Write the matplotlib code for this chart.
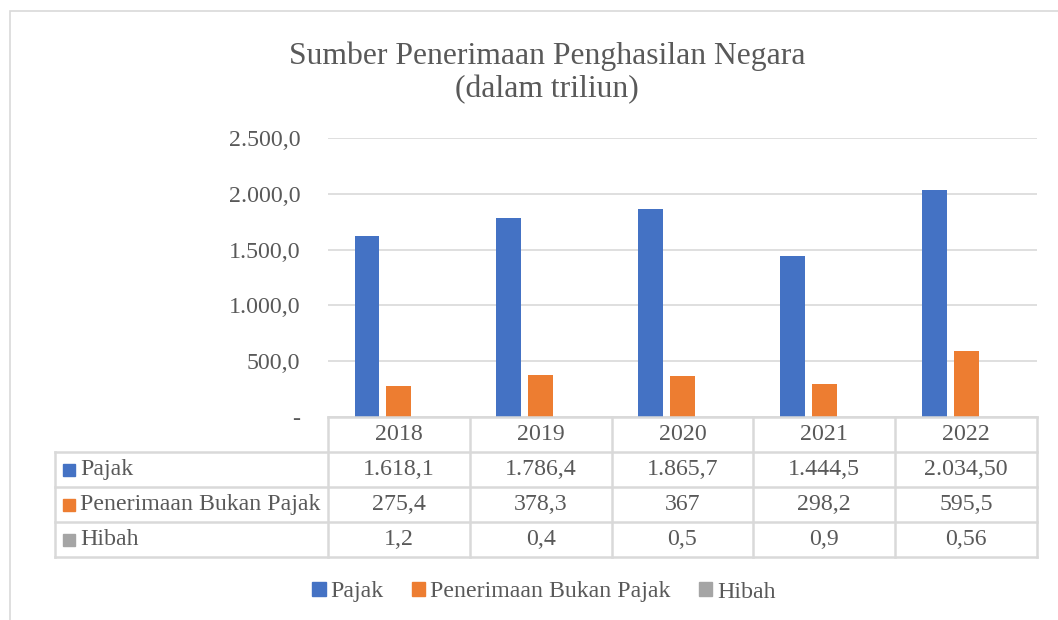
import matplotlib.pyplot as plt
import numpy as np
from matplotlib.patches import Patch, Rectangle
from matplotlib.lines import Line2D

years = ["2018", "2019", "2020", "2021", "2022"]
series = ["Pajak", "Penerimaan Bukan Pajak", "Hibah"]
pajak = [1618.1, 1786.4, 1865.7, 1444.5, 2034.50]
bukan_pajak = [275.4, 378.3, 367, 298.2, 595.5]
hibah = [1.2, 0.4, 0.5, 0.9, 0.56]
# the table shows the values as typed in the sheet
pajak_txt = ["1.618,1", "1.786,4", "1.865,7", "1.444,5", "2.034,50"]
bukan_pajak_txt = ["275,4", "378,3", "367", "298,2", "595,5"]
hibah_txt = ["1,2", "0,4", "0,5", "0,9", "0,56"]
yticks = [0, 500, 1000, 1500, 2000, 2500]
ytick_labels = ["-", "500,0", "1.000,0", "1.500,0", "2.000,0", "2.500,0"]

colors = ["#4472C4", "#ED7D31", "#A5A5A5"]
grid_c = "#D9D9D9"
text_c = "#595959"
fs = 17.2

plt.rcParams["font.family"] = ["Liberation Serif", "DejaVu Serif"]

W, H = 1058, 620
fig = plt.figure(figsize=(W / 100, H / 100), dpi=100)


def fx(px):
    return px / W


def fy(py):
    return 1 - py / H


# outer chart frame
fig.patches.append(Rectangle((fx(10), fy(640)), fx(1080), 640 / H - 11 / H,
                             transform=fig.transFigure, fill=False,
                             edgecolor=grid_c, lw=1.2, clip_on=False))

left, right, y0, ytop = 328, 1037, 417, 138
ax = fig.add_axes([fx(left), fy(y0), fx(right - left), (y0 - ytop) / H])

x = np.arange(len(years))
bw = 0.176
step = 0.225
for i, (vals, c) in enumerate(zip([pajak, bukan_pajak, hibah], colors)):
    ax.bar(x + (i - 1) * step, vals, width=bw, color=c, zorder=3)

ax.set_xlim(-0.5, len(years) - 0.5)
ax.set_ylim(0, 2500)
ax.set_yticks(yticks)
ax.set_yticklabels(ytick_labels)
ax.set_xticks([])
ax.yaxis.grid(True, color=grid_c, lw=1.2)
ax.set_axisbelow(True)
for s in ax.spines.values():
    s.set_visible(False)
ax.tick_params(axis="y", length=0, pad=20, labelsize=fs, labelcolor=text_c)

fig.text(fx(547), fy(56), "Sumber Penerimaan Penghasilan Negara", ha="center",
         va="center", fontsize=22.8, color=text_c)
fig.text(fx(547), fy(90), "(dalam triliun)", ha="center", va="center",
         fontsize=22.8, color=text_c)

# data table below the plot
row_h = 35
tab_left = 55
col_edges = [left + i * (right - left) / len(years) for i in range(len(years) + 1)]
rows_y = [y0 + k * row_h for k in range(5)]


def hline(xa, xb, yy):
    fig.add_artist(Line2D([fx(xa), fx(xb)], [fy(yy), fy(yy)], color=grid_c,
                          lw=1.8, transform=fig.transFigure))


def vline(xx, ya, yb):
    fig.add_artist(Line2D([fx(xx), fx(xx)], [fy(ya), fy(yb)], color=grid_c,
                          lw=1.8, transform=fig.transFigure))


hline(left, right, rows_y[0])
for yy in rows_y[1:]:
    hline(tab_left, right, yy)
for xx in col_edges:
    vline(xx, rows_y[0], rows_y[-1])
vline(tab_left, rows_y[1], rows_y[-1])

for j, yr in enumerate(years):
    cx = (col_edges[j] + col_edges[j + 1]) / 2
    fig.text(fx(cx), fy(rows_y[0] + row_h / 2), yr, ha="center", va="center",
             fontsize=fs, color=text_c)

for k, (name, txts, c) in enumerate(zip(series,
                                        [pajak_txt, bukan_pajak_txt, hibah_txt],
                                        colors)):
    cy = rows_y[k + 1] + row_h / 2
    fig.patches.append(Rectangle((fx(63), fy(cy + 6)), fx(12), 12 / H,
                                 transform=fig.transFigure, color=c))
    fig.text(fx(80), fy(cy), name, ha="left", va="center", fontsize=fs,
             color=text_c)
    for j, t in enumerate(txts):
        cx = (col_edges[j] + col_edges[j + 1]) / 2
        fig.text(fx(cx), fy(cy), t, ha="center", va="center", fontsize=fs,
                 color=text_c)

handles = [Patch(color=c, label=s) for s, c in zip(series, colors)]
fig.legend(handles=handles, loc="center", bbox_to_anchor=(fx(544), fy(592)),
           ncol=3, frameon=False, fontsize=fs, handlelength=0.55,
           handleheight=0.55, handletextpad=0.2, columnspacing=1.2,
           labelcolor=text_c)

fig.savefig("out.png", dpi=100)
